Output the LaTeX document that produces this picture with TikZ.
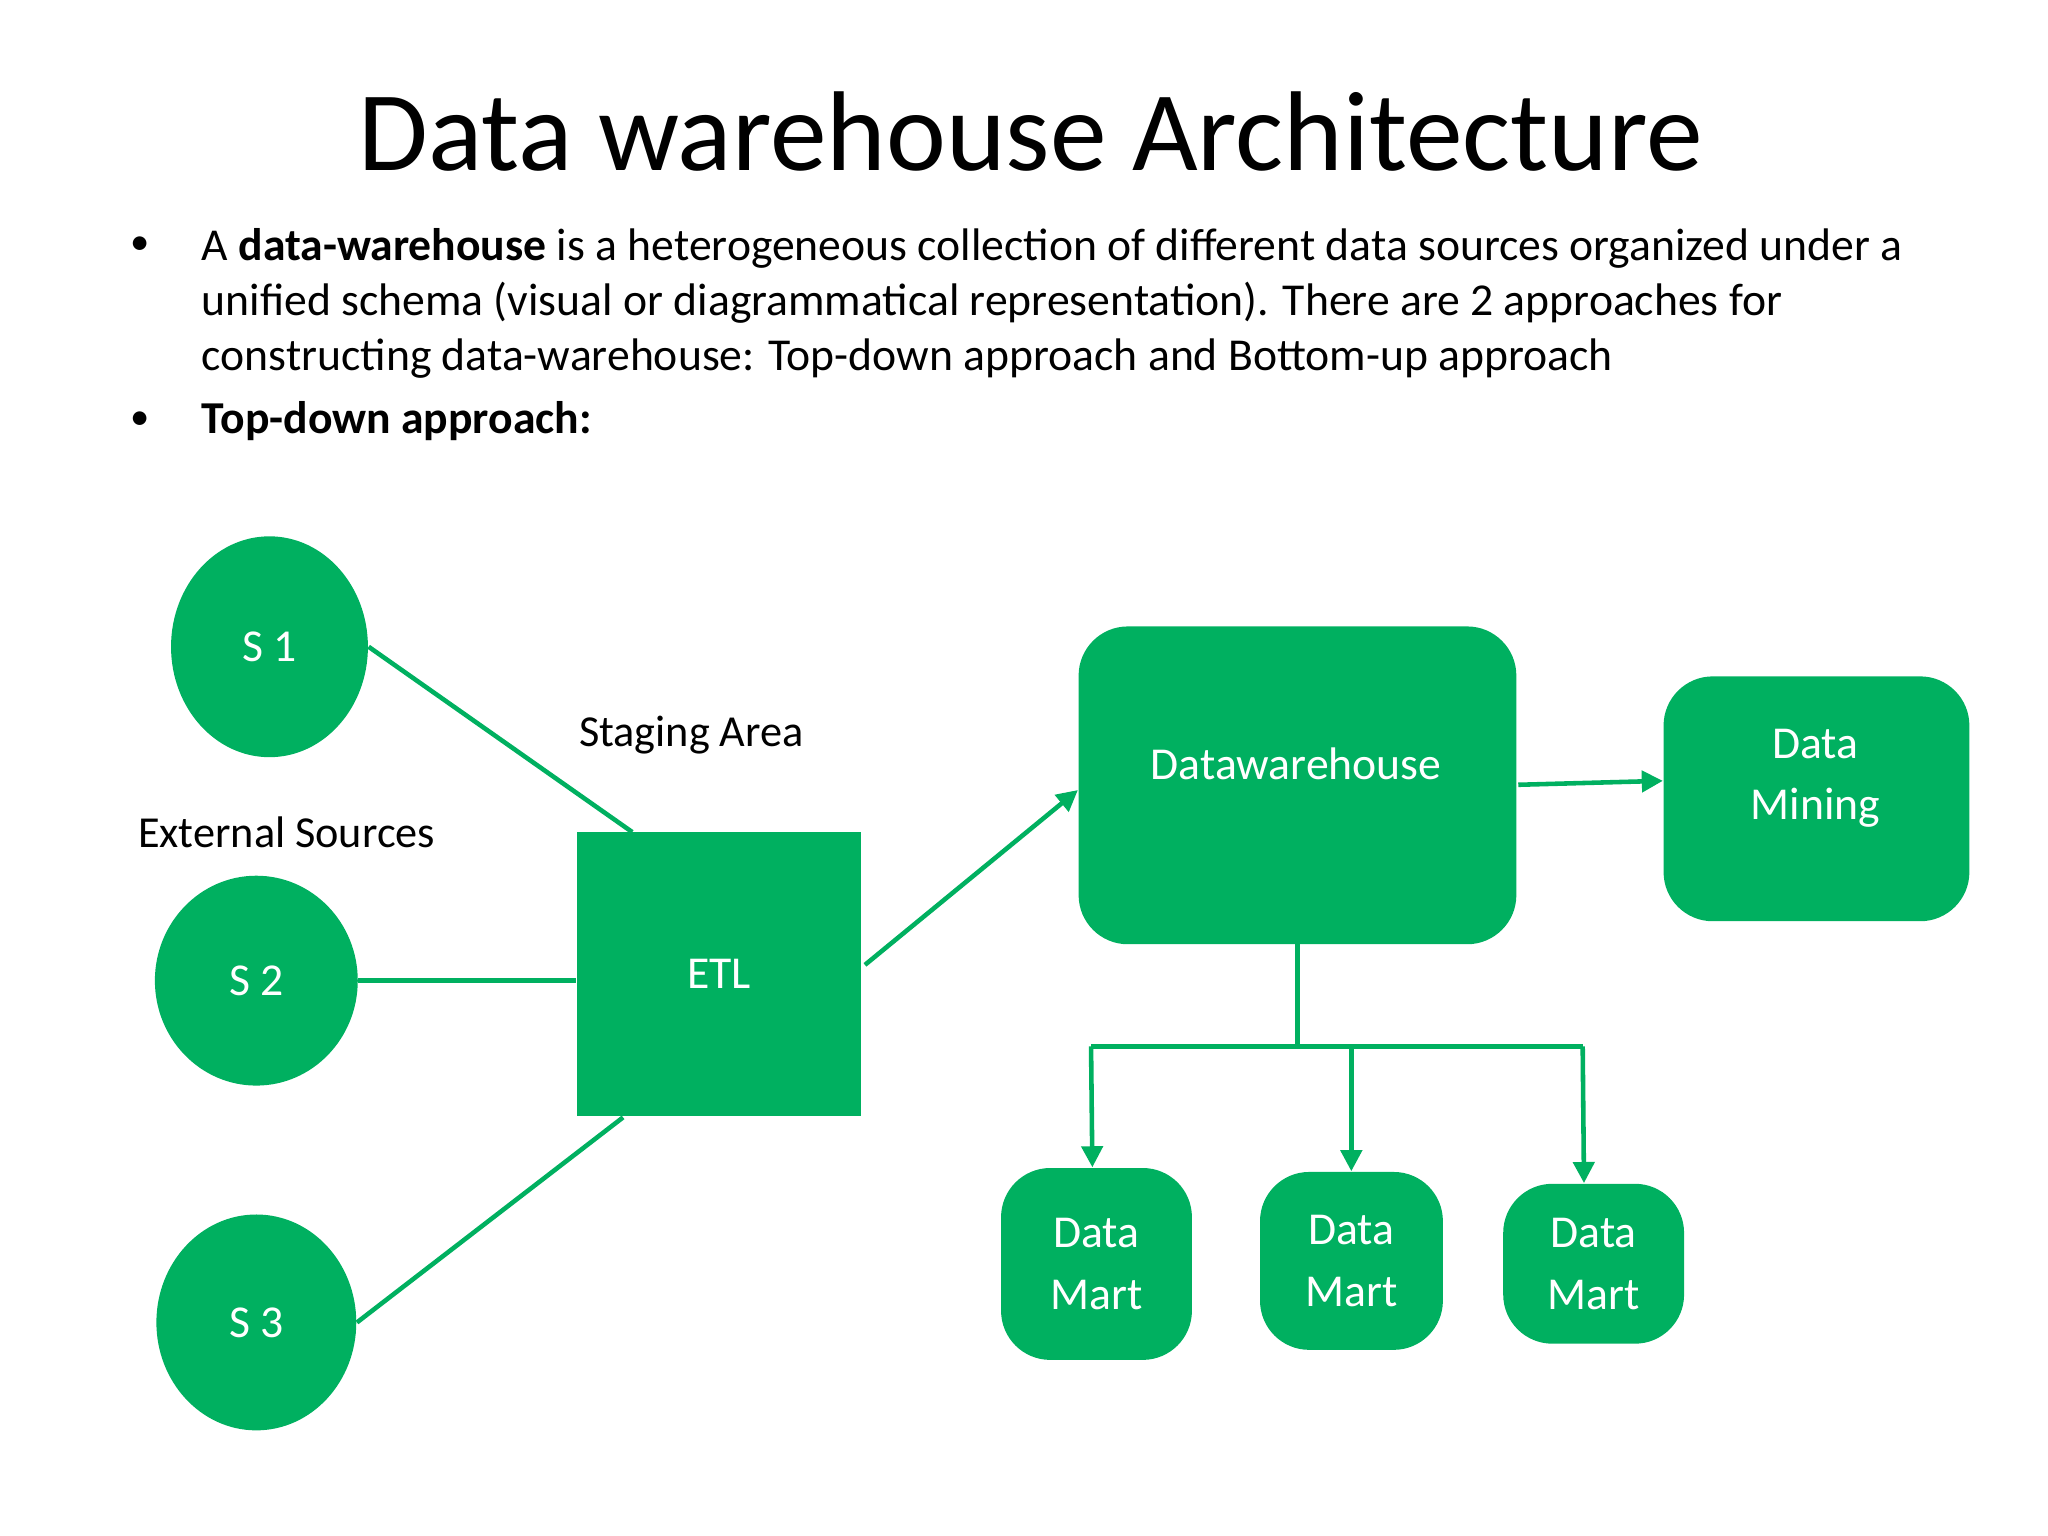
\documentclass[tikz,border=0pt]{standalone}
\usepackage{fontspec}
\setmainfont{Carlito}
\usetikzlibrary{arrows.meta,shapes.geometric}
\definecolor{dwgreen}{HTML}{00B060}
\begin{document}
\begin{tikzpicture}[x=0.01315cm,y=-0.01315cm,
    src/.style={ellipse,fill=dwgreen,text=white,inner sep=0pt,font=\fontsize{13}{16}\selectfont},
    box/.style={rectangle,fill=dwgreen,text=white,align=center,inner sep=0pt,font=\fontsize{13}{17.6}\selectfont},
    rbox/.style={box,rounded corners=14pt},
    lbl/.style={font=\fontsize{12.6}{16}\selectfont},
    link/.style={draw=dwgreen,line width=1.3pt},
    arr/.style={link,-{Triangle[length=6pt,width=6pt]}}]
  \useasboundingbox (0,0) rectangle (1558,1168);
  % title and text
  \node[font=\fontsize{32.3}{38}\selectfont] (title) at (784,100) {Data warehouse Architecture};
  \node[anchor=west,font=\fontsize{11}{14}\selectfont] (b1) at (90,187) {•};
  \node[anchor=north west,align=left,inner sep=0pt,font=\fontsize{13}{15.7}\selectfont] (txt) at (153,173)
    {A \textbf{data-warehouse} is a heterogeneous collection of different data sources organized under a\\
     unified schema (visual or diagrammatical representation). There are 2 approaches for\\
     constructing data-warehouse: Top-down approach and Bottom-up approach};
  \node[anchor=west,font=\fontsize{11}{14}\selectfont] (b2) at (90,320) {•};
  \node[anchor=west,inner sep=0pt,font=\fontsize{13}{16}\selectfont\bfseries] (td) at (153,320) {Top-down approach:};
  % sources
  \node[src,minimum width=1.97cm,minimum height=2.21cm] (s1) at (205,492) {S 1};
  \node[src,minimum width=2.03cm,minimum height=2.10cm] (s2) at (195,746) {S 2};
  \node[src,minimum width=2.00cm,minimum height=2.16cm] (s3) at (195,1006) {S 3};
  \node[lbl] (ext) at (218,633) {External Sources};
  \node[lbl] (stg) at (526,559) {Staging Area};
  % etl and warehouse
  \node[box,minimum width=2.85cm,minimum height=2.85cm] (etl) at (547,741) {ETL};
  \node[rbox,minimum width=4.38cm,minimum height=3.18cm,anchor=north west] (dw) at (820,476) {};
  \node[text=white,font=\fontsize{13}{16}\selectfont] (dwt) at (986,581) {Datawarehouse};
  \node[rbox,minimum width=3.06cm,minimum height=2.45cm,anchor=north west] (dm) at (1265,514) {};
  \node[text=white,align=center,font=\fontsize{13}{17.6}\selectfont] (dmt) at (1381,592) {Data\\Mining};
  % marts
  \node[rbox,minimum width=1.91cm,minimum height=1.92cm,anchor=north west] (m1) at (761,888) {Data\\Mart};
  \node[rbox,minimum width=1.83cm,minimum height=1.78cm,anchor=north west] (m2) at (958,891) {Data\\Mart};
  \node[rbox,minimum width=1.81cm,minimum height=1.60cm,anchor=north west] (m3) at (1143,900) {Data\\Mart};
  \coordinate (e1) at (481,633);
  \coordinate (e3) at (474,850);
  \coordinate (eo) at (658,734);
  \coordinate (wi) at (820,601);
  \coordinate (wo) at (1155,597);
  \coordinate (mi) at (1265,594);
  \coordinate (wb) at (987,718);
  \coordinate (j) at (987,796);
  \coordinate (jl) at (830,796);
  \coordinate (jm) at (1028,796);
  \coordinate (jr) at (1204,796);
  \coordinate (t1) at (831,888);
  \coordinate (t3) at (1205,900);
  % connectors
  \draw[link] (s1.east) -- (e1);
  \draw[link] (s2) -- (etl.west |- s2);
  \draw[link] (s3.east) -- (e3);
  \draw[arr] (eo) -- (wi);
  \draw[arr] (wo) -- (mi);
  \draw[link] (wb) -- (j);
  \draw[link] (jl) -- (jr);
  \draw[arr] (jl) -- (t1);
  \draw[arr] (jm) -- (m2.north -| jm);
  \draw[arr] (jr) -- (t3);
\end{tikzpicture}
\end{document}
